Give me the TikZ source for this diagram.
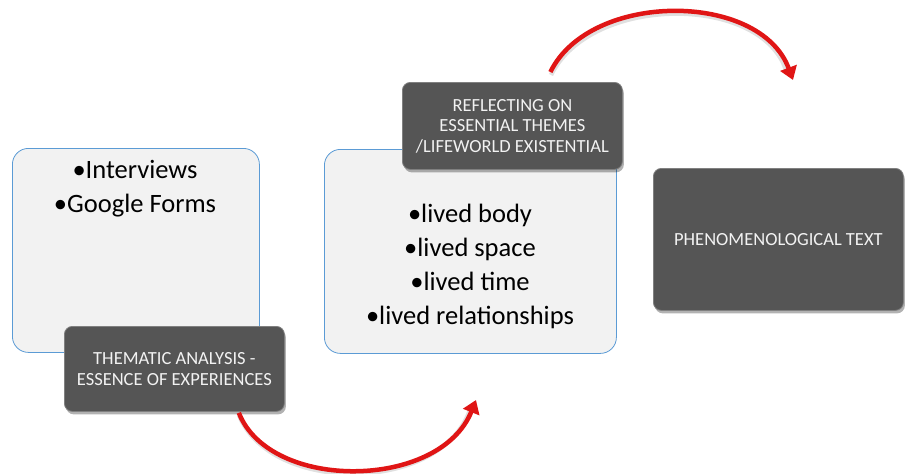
\documentclass[tikz,border=0pt]{standalone}
\usepackage{fontspec}
\setmainfont{Carlito}
\usetikzlibrary{shadows,arrows.meta,calc}
\definecolor{boxfill}{HTML}{F2F2F2}
\definecolor{boxline}{HTML}{5B9BD5}
\definecolor{darkfill}{HTML}{555555}
\definecolor{darktext}{HTML}{F2F2F2}
\definecolor{arrowred}{HTML}{E01515}
\tikzset{
  lightbox/.style={draw=boxline, line width=0.8pt, fill=boxfill, rounded corners=16pt, inner sep=0pt},
  darkbox/.style={fill=darkfill, draw=darkfill!75!white, line width=0.8pt, rounded corners=8pt, inner sep=0pt,
    text=darktext, align=center, font=\fontsize{18.5}{20.5}\selectfont,
    drop shadow={shadow xshift=1.5pt, shadow yshift=-3pt, opacity=0.3, fill=black}},
  bullettext/.style={align=center, inner sep=0pt, anchor=north, font=\fontsize{26.5}{34}\selectfont},
  redarrow/.style={draw=arrowred, line width=4.5pt, -{Triangle[length=13pt,width=17pt]}},
  arrowshade/.style={draw=black, opacity=0.12, line width=4.5pt}
}
\begin{document}
\begin{tikzpicture}[x=1pt,y=-1pt]
\useasboundingbox (0,0) rectangle (906,474);
% light boxes
\node[lightbox, minimum width=247pt, minimum height=204pt, anchor=north west] (l1) at (12,148) {};
\node[lightbox, minimum width=292pt, minimum height=204pt, anchor=north west] (l2) at (324,149) {};
\node[bullettext] (t1) at (135,160) {•Interviews\\•Google Forms};
\node[bullettext] (t2) at (470,204) {•lived body\\•lived space\\•lived time\\•lived relationships};
% dark boxes
\node[darkbox, minimum width=220pt, minimum height=85pt, anchor=north west] (d1) at (64,326) {THEMATIC ANALYSIS -\\ESSENCE OF EXPERIENCES};
\node[darkbox, minimum width=220pt, minimum height=87pt, anchor=north west] (d2) at (402,82) {REFLECTING ON\\ESSENTIAL THEMES\\/LIFEWORLD EXISTENTIAL};
\node[darkbox, minimum width=250pt, minimum height=142pt, anchor=north west] (d3) at (653,168) {PHENOMENOLOGICAL TEXT};
% arrows
\coordinate (a1s) at ($(d1.south east)+(-46,1)$);
\coordinate (a1e) at (476,400);
\coordinate (a2s) at ($(d2.north)+(38,-10)$);
\coordinate (a2e) at (793,80);
\draw[arrowshade] (239,415) .. controls (271,495) and (441,493) .. (470,410);
\draw[redarrow] (a1s) .. controls (270,492) and (440,490) .. (a1e);
\draw[arrowshade] (551,75) .. controls (591,-6) and (761,-6) .. (786,70);
\draw[redarrow] (a2s) .. controls (590,-9) and (760,-9) .. (a2e);
\end{tikzpicture}
\end{document}
